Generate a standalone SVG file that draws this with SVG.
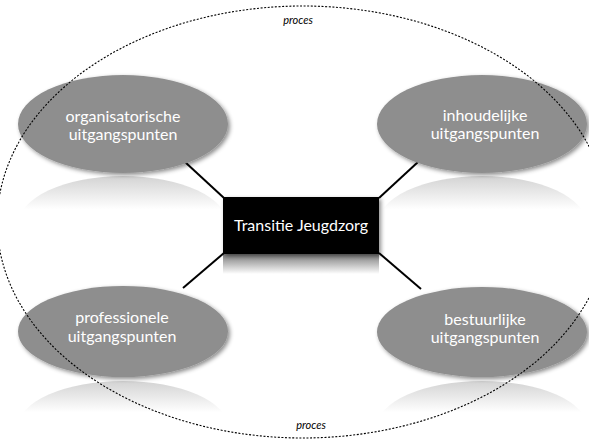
<svg xmlns="http://www.w3.org/2000/svg" width="589" height="441" viewBox="0 0 589 441">
  <defs>
    <filter id="shadow" x="-10%" y="-10%" width="125%" height="130%">
      <feDropShadow dx="2" dy="2" stdDeviation="2" flood-color="#000" flood-opacity="0.45"/>
    </filter>
    <linearGradient id="refl" x1="0" y1="0" x2="0" y2="1">
      <stop offset="0" stop-color="#d3d3d3"/>
      <stop offset="0.34" stop-color="#ffffff"/>
    </linearGradient>
    <linearGradient id="boxrefl" x1="0" y1="0" x2="0" y2="1">
      <stop offset="0" stop-color="#7a7a7a"/>
      <stop offset="1" stop-color="#ffffff"/>
    </linearGradient>
    <style>
      .node { fill: #8e8e8e; filter: url(#shadow); }
      .refl { fill: url(#refl); }
      .label { font-family: Lato, "Open Sans", "Liberation Sans", sans-serif; font-size: 16px; fill: #ffffff; text-anchor: middle; }
      .title { font-family: Lato, "Open Sans", "Liberation Sans", sans-serif; font-size: 16px; fill: #ffffff; text-anchor: middle; }
      .proc { font-family: Lato, "Open Sans", "Liberation Sans", sans-serif; font-size: 11px; font-style: italic; fill: #000000; text-anchor: middle; }
      .conn { stroke: #000000; stroke-width: 2; fill: none; }
      .outline { stroke: #000000; stroke-width: 1.1; stroke-dasharray: 2 1.6; fill: none; }
    </style>
  </defs>
  <rect width="589" height="441" fill="#ffffff"/>

  <g id="reflections">
    <ellipse class="refl" cx="123" cy="225" rx="105" ry="49"/>
    <ellipse class="refl" cx="482" cy="225" rx="105" ry="49"/>
    <ellipse class="refl" cx="123" cy="427" rx="105" ry="46"/>
    <ellipse class="refl" cx="482" cy="427" rx="105" ry="46"/>
    <rect x="223" y="254" width="156" height="20" fill="url(#boxrefl)"/>
  </g>

  <g id="connectors">
    <line class="conn" x1="185" y1="162" x2="224" y2="198"/>
    <line class="conn" x1="418" y1="162" x2="379" y2="198"/>
    <line class="conn" x1="183" y1="288" x2="224" y2="253"/>
    <line class="conn" x1="421" y1="289" x2="379" y2="253"/>
  </g>

  <g id="node-organisatorisch">
    <ellipse class="node" cx="123" cy="124" rx="105" ry="49"/>
    <text class="label" x="123" y="122">organisatorische</text>
    <text class="label" x="123" y="140">uitgangspunten</text>
  </g>
  <g id="node-inhoudelijk">
    <ellipse class="node" cx="482" cy="124" rx="105" ry="49"/>
    <text class="label" x="485" y="121">inhoudelijke</text>
    <text class="label" x="485" y="139">uitgangspunten</text>
  </g>
  <g id="node-professioneel">
    <ellipse class="node" cx="123" cy="331.5" rx="105" ry="45.5"/>
    <text class="label" x="122" y="323">professionele</text>
    <text class="label" x="122" y="342">uitgangspunten</text>
  </g>
  <g id="node-bestuurlijk">
    <ellipse class="node" cx="482" cy="332" rx="105" ry="45"/>
    <text class="label" x="485" y="325">bestuurlijke</text>
    <text class="label" x="485" y="343">uitgangspunten</text>
  </g>
  <g id="node-transitie">
    <rect x="223" y="197" width="156" height="57" fill="#000000" filter="url(#shadow)"/>
    <text class="title" x="301" y="231">Transitie Jeugdzorg</text>
  </g>

  <g id="proces">
    <ellipse class="outline" cx="302.8" cy="222" rx="305.6" ry="216"/>
    <text class="proc" x="298" y="24">proces</text>
    <text class="proc" x="311" y="429">proces</text>
  </g>
</svg>
